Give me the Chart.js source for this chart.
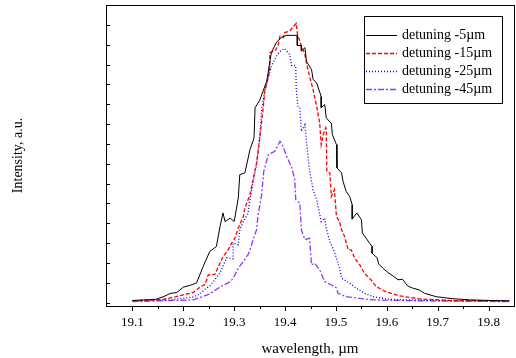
<!DOCTYPE html>
<html>
<head>
<meta charset="utf-8">
<script src="https://cdn.jsdelivr.net/npm/chart.js@4.4.1/dist/chart.umd.min.js"></script>
<style>
  html, body { margin: 0; padding: 0; background: #fff; }
</style>
</head>
<body>
<canvas id="spectrum" width="516" height="358"></canvas>
<script>
// Series labels and colours
const seriesLabels = ['detuning -5\u00b5m', 'detuning -15\u00b5m', 'detuning -25\u00b5m', 'detuning -45\u00b5m'];
const seriesColors = ['#000000', '#ff0000', '#0000ff', '#8f3cf0'];
const seriesDash = [[], [4, 2], [1, 2], [6, 2, 2, 2]];

// detuning -5um
const wl5 = [19.100,19.125,19.146,19.162,19.174,19.187,19.200,19.213,19.226,19.239,19.252,19.265,19.272,19.278,19.282,19.292,19.300,19.308,19.311,19.321,19.331,19.339,19.341,19.350,19.364,19.373,19.383,19.393,19.403,19.416,19.424,19.424,19.432,19.432,19.439,19.442,19.452,19.455,19.462,19.471,19.471,19.478,19.481,19.491,19.493,19.501,19.502,19.511,19.514,19.520,19.527,19.532,19.532,19.541,19.550,19.552,19.566,19.571,19.571,19.581,19.584,19.592,19.602,19.612,19.622,19.631,19.641,19.651,19.664,19.674,19.697,19.729,19.762,19.801,19.841];
const int5 = [0.11,0.14,0.17,0.31,0.46,0.51,0.78,0.87,0.99,1.82,2.58,2.83,3.82,4.52,4.08,4.26,4.09,5.27,6.45,6.54,7.71,8.30,9.82,10.19,11.16,12.60,13.12,13.37,13.47,13.47,13.47,12.96,12.96,12.68,12.85,12.16,11.75,11.25,11.08,10.39,9.83,9.98,9.31,9.03,8.47,7.96,6.79,6.54,6.11,5.61,5.35,4.93,4.21,4.52,4.18,3.51,3.00,2.83,2.49,2.26,1.95,1.74,1.52,1.35,1.15,1.18,0.84,0.73,0.64,0.47,0.30,0.20,0.14,0.11,0.09];

// detuning -15um
const wl15 = [19.100,19.135,19.161,19.184,19.200,19.220,19.233,19.243,19.249,19.262,19.272,19.278,19.288,19.295,19.301,19.308,19.311,19.318,19.321,19.331,19.337,19.344,19.350,19.357,19.360,19.367,19.370,19.370,19.380,19.386,19.390,19.396,19.399,19.409,19.422,19.424,19.432,19.439,19.442,19.448,19.455,19.462,19.468,19.471,19.476,19.480,19.481,19.482,19.488,19.491,19.497,19.501,19.507,19.511,19.517,19.524,19.530,19.537,19.547,19.556,19.569,19.579,19.599,19.625,19.664,19.729,19.841];
const int15 = [0.09,0.12,0.17,0.29,0.39,0.52,0.79,0.92,1.40,1.42,1.99,2.32,2.66,3.00,3.22,3.76,3.92,4.34,4.77,5.44,6.20,7.04,8.22,9.82,10.66,11.33,11.84,12.60,12.68,12.93,13.43,13.35,13.61,13.69,14.08,13.57,12.93,12.51,12.09,11.41,10.74,9.90,9.06,7.96,8.56,8.82,8.72,6.62,6.54,5.35,5.69,4.34,4.09,3.67,3.33,2.66,2.66,2.24,1.90,1.48,1.15,0.81,0.54,0.34,0.19,0.10,0.09];

// detuning -25um
const wl25 = [19.100,19.174,19.220,19.233,19.243,19.252,19.262,19.272,19.285,19.298,19.298,19.308,19.311,19.318,19.327,19.331,19.337,19.344,19.350,19.354,19.360,19.367,19.373,19.383,19.390,19.399,19.409,19.413,19.421,19.422,19.425,19.429,19.432,19.439,19.442,19.448,19.455,19.462,19.471,19.478,19.481,19.488,19.497,19.507,19.511,19.527,19.540,19.556,19.573,19.605,19.664,19.762,19.841];
const int25 = [0.09,0.14,0.29,0.44,0.69,0.84,1.15,1.50,2.26,2.21,3.00,2.91,3.67,4.09,4.48,5.19,6.03,6.95,8.34,9.73,10.66,11.33,11.92,12.42,12.66,12.81,12.51,11.95,11.95,10.74,9.90,9.83,8.64,8.97,8.12,6.70,5.69,5.19,4.08,4.26,3.76,3.08,2.56,1.74,1.23,0.98,0.73,0.47,0.30,0.17,0.12,0.10,0.09];

// detuning -45um
const wl45 = [19.100,19.220,19.252,19.272,19.292,19.298,19.308,19.318,19.327,19.331,19.337,19.344,19.347,19.354,19.358,19.367,19.380,19.390,19.396,19.403,19.413,19.419,19.421,19.429,19.432,19.439,19.448,19.452,19.458,19.468,19.478,19.491,19.501,19.504,19.520,19.547,19.573,19.664,19.841];
const int45 = [0.05,0.14,0.44,0.79,1.05,1.23,1.74,2.07,2.41,2.66,3.17,3.67,4.43,5.44,6.60,7.46,7.63,8.13,7.88,7.36,6.83,6.20,5.19,5.02,3.67,3.17,3.25,1.90,1.99,1.65,1.06,0.89,0.74,0.47,0.30,0.21,0.14,0.09,0.05];

const serif = "'Liberation Serif', 'Times New Roman', serif";

function toPoints(xs, ys) {
    return xs.map((x, i) => ({ x: x, y: ys[i] }));
}

// frame, inward y ticks, outward x ticks (major + minor)
const framePlugin = {
    id: 'frame',
    afterDatasetsDraw(chart) {
        const { ctx, chartArea: a, scales } = chart;
        ctx.save();
        ctx.strokeStyle = '#000';
        ctx.lineWidth = 1;
        ctx.strokeRect(a.left + 0.5, a.top + 0.5, a.right - a.left, a.bottom - a.top);
        ctx.beginPath();
        for (let i = 0; i <= 14; i++) {
            const v = 19.1 + i * 0.05;
            const px = Math.round(scales.x.getPixelForValue(v)) + 0.5;
            const len = i % 2 === 0 ? 5 : 3;
            ctx.moveTo(px, a.bottom);
            ctx.lineTo(px, a.bottom + len);
        }
        for (let v = 0; v <= 14; v++) {
            const py = Math.round(scales.y.getPixelForValue(v)) + 0.5;
            ctx.moveTo(a.left, py);
            ctx.lineTo(a.left + 4, py);
        }
        ctx.stroke();
        ctx.restore();
    }
};

// boxed legend in the upper right of the plot
const legendPlugin = {
    id: 'boxLegend',
    afterDraw(chart) {
        const { ctx, chartArea: a } = chart;
        const left = a.right - 150, top = a.top + 11, w = 138, h = 87;
        ctx.save();
        ctx.fillStyle = '#fff';
        ctx.fillRect(left, top, w, h);
        ctx.strokeStyle = '#000';
        ctx.lineWidth = 1;
        ctx.strokeRect(left + 0.5, top + 0.5, w, h);
        ctx.font = '14px ' + serif;
        ctx.textBaseline = 'middle';
        seriesLabels.forEach((label, i) => {
            const y = top + 19 + i * 18;
            ctx.save();
            ctx.beginPath();
            ctx.strokeStyle = seriesColors[i];
            ctx.lineWidth = i === 0 ? 1 : 1.5;
            ctx.setLineDash(seriesDash[i]);
            ctx.moveTo(left + 2, y + 0.5);
            ctx.lineTo(left + 33, y + 0.5);
            ctx.stroke();
            ctx.restore();
            ctx.fillStyle = '#000';
            ctx.fillText(label, left + 38, y);
        });
        ctx.restore();
    }
};

function createSpectrumChart() {
    const ctx = document.getElementById('spectrum').getContext('2d');
    const pts = [toPoints(wl5, int5), toPoints(wl15, int15), toPoints(wl25, int25), toPoints(wl45, int45)];
    new Chart(ctx, {
        type: 'line',
        data: {
            datasets: pts.map((p, i) => ({
                label: seriesLabels[i],
                data: p,
                borderColor: seriesColors[i],
                borderWidth: i === 0 ? 1 : 1.3,
                borderDash: seriesDash[i]
            }))
        },
        options: {
            responsive: false,
            animation: false,
            devicePixelRatio: 1,
            elements: { point: { radius: 0 }, line: { tension: 0, fill: false } },
            layout: { padding: { top: 5, right: 2, left: 0, bottom: 0 } },
            plugins: { legend: { display: false }, tooltip: { enabled: false } },
            scales: {
                x: {
                    type: 'linear',
                    min: 19.048,
                    max: 19.85,
                    grid: { display: false, drawTicks: false },
                    border: { display: false },
                    ticks: {
                        stepSize: 0.1,
                        includeBounds: false,
                        autoSkip: false,
                        maxRotation: 0,
                        padding: 9,
                        color: '#000',
                        font: { family: serif, size: 13 },
                        callback: v => v.toFixed(1)
                    },
                    title: {
                        display: true,
                        text: 'wavelength, \u00b5m',
                        color: '#000',
                        font: { family: serif, size: 15 },
                        padding: { top: 0, bottom: 0 }
                    },
                    afterFit: s => { s.height = 52; }
                },
                y: {
                    min: -0.17,
                    max: 15,
                    grid: { display: false, drawTicks: false },
                    border: { display: false },
                    ticks: { display: false, stepSize: 1 },
                    title: {
                        display: true,
                        text: 'Intensity, a.u.',
                        color: '#000',
                        font: { family: serif, size: 14 },
                        padding: { top: 10, bottom: 0 }
                    },
                    afterFit: s => { s.width = 106; }
                }
            }
        },
        plugins: [framePlugin, legendPlugin]
    });
}

window.onload = function () {
    createSpectrumChart();
};
</script>
</body>
</html>
